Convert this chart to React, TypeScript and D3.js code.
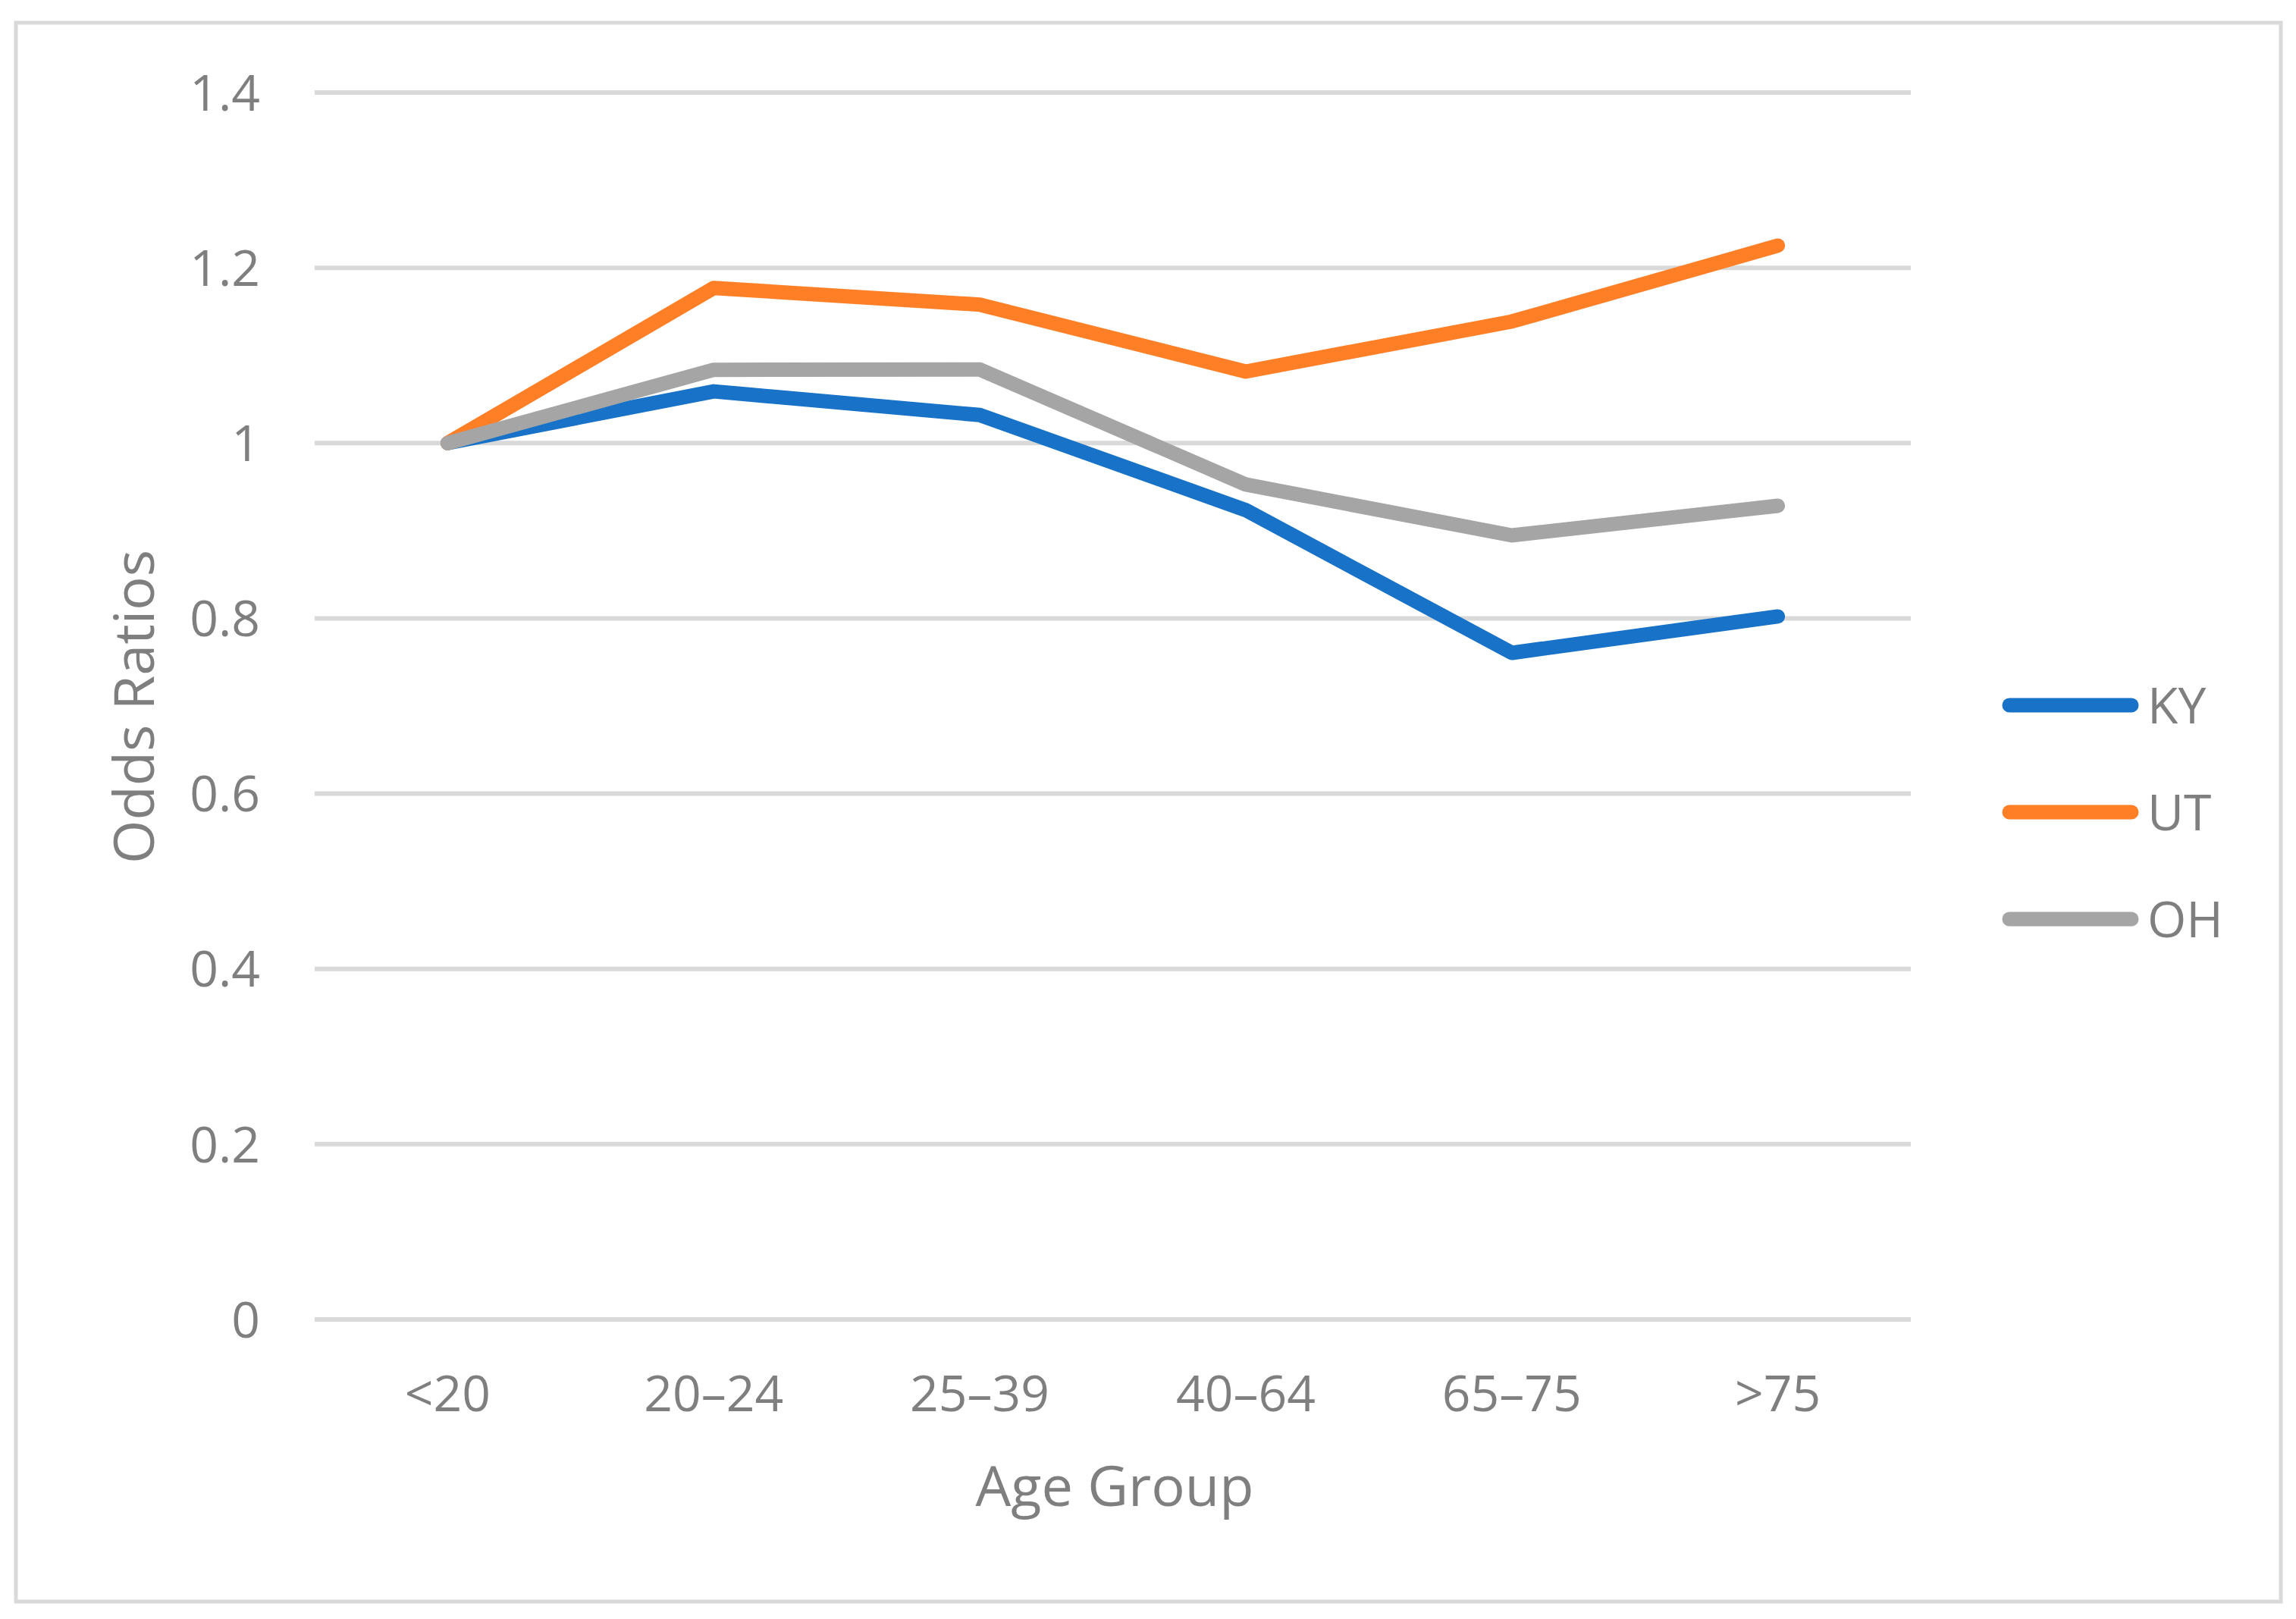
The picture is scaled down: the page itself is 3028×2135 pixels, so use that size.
import React from "react";
import * as d3 from "d3";

const categories = ["<20", "20–24", "25–39", "40–64", "65–75", ">75"];
const seriesNames = ["KY", "UT", "OH"];
const kyValues = [1.0, 1.059, 1.032, 0.9235, 0.7606, 0.8022];
const utValues = [1.0, 1.177, 1.158, 1.0816, 1.1387, 1.2253];
const ohValues = [1.0, 1.0836, 1.084, 0.9527, 0.8947, 0.9284];
const yTicks = [0, 0.2, 0.4, 0.6, 0.8, 1, 1.2, 1.4];
const yTickLabels = ["0", "0.2", "0.4", "0.6", "0.8", "1", "1.2", "1.4"];
const seriesColors = ["#1772C8", "#FF7F27", "#A5A5A5"];

const W = 3028;
const H = 2135;
const FONT = "'Open Sans', 'Noto Sans', sans-serif";
const TEXT = "#7F7F7F";
const GRID = "#D9D9D9";

export default function App() {
  const x = d3.scalePoint<string>().domain(categories).range([415, 2520]).padding(0.5);
  const y = d3.scaleLinear().domain([0, 1.4]).range([1740, 122]);
  const line = d3
    .line<number>()
    .x((_, i) => x(categories[i]) as number)
    .y((d) => y(d));
  const allSeries = [kyValues, utValues, ohValues];
  const legendY = [930, 1071, 1212];

  return (
    <svg
      width={W}
      height={H}
      style={{ position: "absolute", left: 0, top: 0, display: "block" }}
      fontFamily={FONT}
    >
      <rect x={0} y={0} width={W} height={H} fill="#fff" />
      <rect x={21} y={30} width={2987} height={2082} fill="#fff" stroke={GRID} strokeWidth={5} />
      {yTicks.map((t, i) => (
        <g key={t}>
          <line x1={415} x2={2520} y1={y(t)} y2={y(t)} stroke={GRID} strokeWidth={6} />
          <text x={343} y={y(t)} dy="0.36em" textAnchor="end" fontSize={66} fill={TEXT}>
            {yTickLabels[i]}
          </text>
        </g>
      ))}
      {categories.map((c) => (
        <text key={c} x={x(c)} y={1861} textAnchor="middle" fontSize={66} fill={TEXT}>
          {c}
        </text>
      ))}
      <text x={1470} y={1986} textAnchor="middle" fontSize={74} fill={TEXT}>
        Age Group
      </text>
      <text
        transform={`translate(203,932) rotate(-90)`}
        textAnchor="middle"
        fontSize={74}
        fill={TEXT}
      >
        Odds Ratios
      </text>
      {allSeries.map((s, i) => (
        <path
          key={seriesNames[i]}
          d={line(s) || ""}
          fill="none"
          stroke={seriesColors[i]}
          strokeWidth={19}
          strokeLinecap="round"
          strokeLinejoin="round"
        />
      ))}
      {seriesNames.map((n, i) => (
        <g key={n}>
          <line
            x1={2650}
            x2={2811}
            y1={legendY[i]}
            y2={legendY[i]}
            stroke={seriesColors[i]}
            strokeWidth={19}
            strokeLinecap="round"
          />
          <text x={2832} y={legendY[i]} dy="0.36em" fontSize={66} fill={TEXT}>
            {n}
          </text>
        </g>
      ))}
    </svg>
  );
}
